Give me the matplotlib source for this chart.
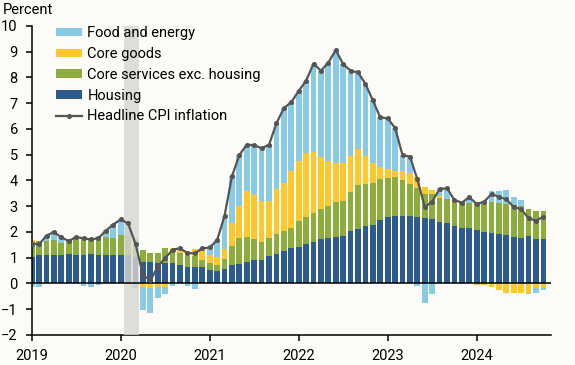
import matplotlib
matplotlib.use("Agg")
import matplotlib.pyplot as plt
import numpy as np

plt.rcParams['font.family'] = ['Roboto', 'DejaVu Sans']

# monthly, Jan 2019 .. Oct 2024 (index 0 = Jan 2019)
housing = [
    1.04, 1.09, 1.09, 1.12, 1.09, 1.16, 1.12, 1.09, 1.16, 1.09, 1.09, 1.09,
    1.09, 1.09, 1.01, 0.85, 0.85, 0.80, 0.79, 0.79, 0.71, 0.66, 0.66, 0.63,
    0.54, 0.50, 0.58, 0.71, 0.74, 0.85, 0.93, 0.93, 1.05, 1.16, 1.28, 1.36,
    1.43, 1.55, 1.63, 1.71, 1.78, 1.82, 1.86, 2.02, 2.13, 2.25, 2.29, 2.48,
    2.60, 2.64, 2.64, 2.64, 2.60, 2.53, 2.49, 2.38, 2.34, 2.22, 2.14, 2.14,
    2.07, 2.00, 1.95, 1.91, 1.87, 1.81, 1.78, 1.85, 1.72, 1.72,
]
core_services = [
    0.57, 0.55, 0.55, 0.56, 0.50, 0.48, 0.59, 0.62, 0.55, 0.71, 0.72, 0.68,
    0.78, 0.78, 0.70, 0.44, 0.32, 0.37, 0.57, 0.54, 0.47, 0.39, 0.39, 0.30,
    0.24, 0.22, 0.39, 0.76, 1.02, 0.97, 0.78, 0.70, 0.71, 0.78, 0.74, 0.81,
    1.01, 1.05, 1.12, 1.20, 1.24, 1.36, 1.36, 1.52, 1.71, 1.63, 1.62, 1.59,
    1.51, 1.51, 1.39, 1.24, 1.12, 0.93, 0.97, 0.95, 0.93, 0.95, 1.03, 0.97,
    1.07, 1.07, 1.22, 1.23, 1.20, 1.23, 1.23, 1.03, 1.08, 1.08,
]
core_goods = [
    0.09, 0.00, 0.00, 0.00, 0.00, 0.02, 0.05, 0.07, 0.07, 0.00, 0.00, 0.00,
    0.00, 0.00, 0.00, -0.13, -0.18, -0.15, -0.12, 0.05, 0.18, 0.22, 0.28, 0.35,
    0.34, 0.31, 0.36, 0.88, 1.26, 1.76, 1.71, 1.56, 1.46, 1.72, 1.89, 2.18,
    2.33, 2.46, 2.37, 1.99, 1.75, 1.48, 1.44, 1.43, 1.39, 1.09, 0.78, 0.46,
    0.32, 0.23, 0.35, 0.42, 0.43, 0.27, 0.17, 0.08, 0.00, 0.00, 0.00, 0.00,
    -0.04, -0.05, -0.13, -0.25, -0.37, -0.37, -0.37, -0.37, -0.19, -0.19,
]
food_energy = [
    -0.14, -0.12, 0.24, 0.35, 0.20, 0.00, 0.05, -0.08, -0.12, -0.05, 0.27, 0.54,
    0.60, 0.46, -0.18, -0.90, -0.97, -0.42, -0.29, -0.10, 0.00, -0.10, -0.20, 0.08,
    0.30, 0.65, 1.29, 1.81, 1.97, 1.81, 1.95, 2.06, 2.17, 2.56, 2.90, 2.69,
    2.71, 2.81, 3.42, 3.36, 3.81, 4.40, 3.86, 3.29, 2.97, 2.78, 2.42, 1.92,
    1.98, 1.66, 0.60, 0.63, -0.10, -0.76, -0.41, 0.28, 0.45, 0.07, -0.03, 0.24,
    0.00, 0.15, 0.44, 0.47, 0.57, 0.30, 0.25, -0.04, -0.16, -0.07,
]
headline = [
    1.55, 1.52, 1.86, 2.00, 1.79, 1.65, 1.81, 1.75, 1.71, 1.76, 2.05, 2.29,
    2.49, 2.33, 1.54, 0.33, 0.12, 0.65, 0.99, 1.31, 1.37, 1.18, 1.17, 1.36,
    1.40, 1.68, 2.62, 4.16, 4.99, 5.39, 5.37, 5.25, 5.39, 6.22, 6.81, 7.04,
    7.48, 7.87, 8.54, 8.26, 8.58, 9.06, 8.52, 8.26, 8.20, 7.75, 7.11, 6.45,
    6.41, 6.04, 4.98, 4.93, 4.05, 2.97, 3.18, 3.67, 3.70, 3.24, 3.14, 3.35,
    3.09, 3.17, 3.48, 3.36, 3.27, 2.97, 2.89, 2.53, 2.44, 2.60,
]
years = ["2019", "2020", "2021", "2022", "2023", "2024"]
recession = (12.45, 14.45)

series = [
    ("Housing", housing, "#2d5c8c"),
    ("Core services exc. housing", core_services, "#8cad3e"),
    ("Core goods", core_goods, "#fec72c"),
    ("Food and energy", food_energy, "#89cbe5"),
]

bg = "#fcfbf8"
fig = plt.figure(figsize=(5.75, 3.65), dpi=100, facecolor=bg)
ax = fig.add_axes([0.0551, 0.0822, 0.9029, 0.8466], facecolor=bg)

x = np.arange(len(headline))
pos_base = np.zeros(len(x))
neg_base = np.zeros(len(x))
handles = {}
for name, vals, col in series:
    v = np.array(vals)
    p = np.where(v > 0, v, 0)
    n = np.where(v < 0, v, 0)
    b = ax.bar(x, p, bottom=pos_base, width=0.78, color=col, linewidth=0, zorder=2)
    ax.bar(x, n, bottom=neg_base, width=0.78, color=col, linewidth=0, zorder=2)
    pos_base += p
    neg_base += n
    handles[name] = b

ax.axvspan(*recession, color="#d8d6d2", alpha=0.8, linewidth=0, zorder=3)
ax.axhline(0, color="black", linewidth=1.1, zorder=4)
line, = ax.plot(x, headline, color="#555555", linewidth=1.6, marker="o",
                markersize=2.6, zorder=5)

ax.set_xlim(0, 70)
ax.set_ylim(-2, 10)
ax.set_yticks(range(-2, 11))
ax.set_xticks(np.arange(len(years)) * 12)
ax.set_xticklabels(years)
for s in ["top", "right"]:
    ax.spines[s].set_visible(False)
for s in ["left", "bottom"]:
    ax.spines[s].set_linewidth(1.1)
ax.tick_params(axis="y", length=4, width=1.1, pad=6, labelsize=10.5)
ax.tick_params(axis="x", length=4, width=1.1, pad=6, labelsize=10.5)

order = ["Food and energy", "Core goods", "Core services exc. housing", "Housing"]
ax.legend([handles[k] for k in order] + [line], order + ["Headline CPI inflation"],
          loc="upper left", bbox_to_anchor=(0.047, 1.0), frameon=False,
          fontsize=10.5, borderpad=0, borderaxespad=0, handlelength=1.8,
          handleheight=0.5, handletextpad=0.35, labelspacing=0.47)

fig.text(0.005, 0.973, "Percent", fontsize=10.5, va="center", ha="left")

fig.savefig("out.png", dpi=100, facecolor=bg)
